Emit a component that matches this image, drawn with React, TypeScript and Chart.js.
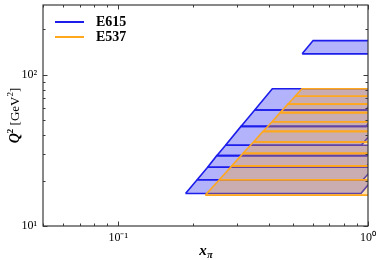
import React, { useEffect, useRef } from 'react';
import { Chart, registerables } from 'chart.js';
Chart.register(...registerables);

// E615 bins (Q^2 edges in GeV^2) and x_pi corners
const e615Q2Edges = [16.4, 20.25, 24.5, 29.2, 34.2, 45.6, 58.5, 81.0];
const e615XLeft = [0.186, 0.207, 0.228, 0.248, 0.269, 0.31, 0.352, 0.414];
const e615XRightLow = [0.937, 0.955, 0.98, 0.99, 0.94, 0.98, 0.98];
const e615XRightHigh = [1.04, 1.06, 1.08, 1.09, 1.09, 1.12, 1.16];
// E615 upper mass band
const e615UpperQ2 = [137.8, 168.6];
const e615UpperXLeft = [0.545, 0.603];
const e615UpperXRight = [1.2, 1.3];

// E537 bins
const e537Q2Edges = [16, 20.25, 25, 30.25, 36, 42.25, 49, 56.25, 64, 72.25, 81];
const e537XLeft = [0.223, 0.254, 0.285, 0.316, 0.348, 0.38, 0.413, 0.445, 0.478, 0.511, 0.544];
const e537XRight = [1.1, 1.1, 1.1, 1.1, 1.1, 1.1, 1.1, 1.1, 1.1, 1.1, 1.1];

const seriesNames = ['E615', 'E537'];
const xTickValues = [0.1, 1];
const xTickLabels = ['10⁻¹', '10⁰'];
const yTickValues = [10, 100];
const yTickLabels = ['10¹', '10²'];

const BLUE_LINE = 'rgb(28,28,235)';
const BLUE_FILL = 'rgba(20,20,245,0.32)';
const ORANGE_LINE = 'rgb(255,168,30)';
const ORANGE_FILL = 'rgba(255,160,0,0.3)';

function quad(xl0: number, xr0: number, y0: number, xl1: number, xr1: number, y1: number) {
  return [
    { x: xl0, y: y0 },
    { x: xr0, y: y0 },
    { x: xr1, y: y1 },
    { x: xl1, y: y1 },
    { x: xl0, y: y0 },
  ];
}

function isNice(v: number) {
  const p = Math.pow(10, Math.floor(Math.log10(v) + 1e-9));
  const s = v / p;
  return Math.abs(s - Math.round(s)) < 1e-6;
}
function isDecade(v: number) {
  const l = Math.log10(v);
  return Math.abs(l - Math.round(l)) < 1e-6;
}

const boxPlugin = {
  id: 'boxTicksTitles',
  afterDraw(chart: any) {
    const { ctx, chartArea: a, scales } = chart;
    const xs = scales.x;
    const ys = scales.y;
    ctx.save();
    ctx.strokeStyle = '#3a3a3a';
    ctx.lineWidth = 1;
    // inward ticks
    ctx.beginPath();
    for (const t of xs.ticks) {
      const v = t.value;
      if (v < xs.min - 1e-9 || v > xs.max + 1e-9 || !isNice(v)) continue;
      const px = Math.round(xs.getPixelForValue(v)) + 0.5;
      const len = isDecade(v) ? 4.5 : 2.5;
      ctx.moveTo(px, a.bottom);
      ctx.lineTo(px, a.bottom - len);
      ctx.moveTo(px, a.top);
      ctx.lineTo(px, a.top + len);
    }
    for (const t of ys.ticks) {
      const v = t.value;
      if (v < ys.min - 1e-9 || v > ys.max + 1e-9 || !isNice(v)) continue;
      const py = Math.round(ys.getPixelForValue(v)) + 0.5;
      const len = isDecade(v) ? 4.5 : 2.5;
      ctx.moveTo(a.left, py);
      ctx.lineTo(a.left + len, py);
      ctx.moveTo(a.right, py);
      ctx.lineTo(a.right - len, py);
    }
    ctx.stroke();
    ctx.lineWidth = 1.2;
    ctx.strokeRect(a.left, a.top, a.right - a.left, a.bottom - a.top);

    // legend
    const items = chart.data.datasets.filter((d: any) => d.label);
    items.forEach((d: any, i: number) => {
      const y = a.top + 17 + i * 15;
      ctx.strokeStyle = d.borderColor;
      ctx.lineWidth = 2;
      ctx.beginPath();
      ctx.moveTo(a.left + 12, y);
      ctx.lineTo(a.left + 41, y);
      ctx.stroke();
      ctx.fillStyle = '#000';
      ctx.font = 'bold 14px "Liberation Serif", serif';
      ctx.textBaseline = 'middle';
      ctx.textAlign = 'left';
      ctx.fillText(d.label, a.left + 53, y + 0.5);
    });

    // x title: x_pi
    ctx.fillStyle = '#000';
    ctx.textBaseline = 'alphabetic';
    const cx = (a.left + a.right) / 2;
    ctx.font = 'bold italic 15px "Liberation Serif", serif';
    const wx = ctx.measureText('x').width;
    ctx.font = 'italic 10px "Liberation Serif", serif';
    const wp = ctx.measureText('π').width;
    const x0 = cx - (wx + wp) / 2;
    ctx.font = 'bold italic 15px "Liberation Serif", serif';
    ctx.fillText('x', x0, 255);
    ctx.font = 'bold italic 10px "Liberation Serif", serif';
    ctx.fillText('π', x0 + wx + 0.5, 258);

    // y title: Q^2 [GeV^2]
    ctx.save();
    ctx.translate(19, (a.top + a.bottom) / 2);
    ctx.rotate(-Math.PI / 2);
    const parts = [
      { t: 'Q', f: 'bold italic 14px "Liberation Serif", serif', dy: 0 },
      { t: '2', f: 'bold 9px "Liberation Serif", serif', dy: -6 },
      { t: ' [GeV', f: '13px "Liberation Serif", serif', dy: 0 },
      { t: '2', f: '9px "Liberation Serif", serif', dy: -6 },
      { t: ']', f: '13px "Liberation Serif", serif', dy: 0 },
    ];
    let total = 0;
    for (const p of parts) {
      ctx.font = p.f;
      total += ctx.measureText(p.t).width;
    }
    let px = -total / 2;
    for (const p of parts) {
      ctx.font = p.f;
      ctx.fillText(p.t, px, p.dy);
      px += ctx.measureText(p.t).width;
    }
    ctx.restore();
    ctx.restore();
  },
};

export default function App() {
  const ref = useRef<HTMLCanvasElement | null>(null);
  useEffect(() => {
    document.body.style.margin = '0';
    const datasets: any[] = [];
    for (let i = 0; i < e615Q2Edges.length - 1; i++) {
      datasets.push({
        label: i === 0 ? seriesNames[0] : undefined,
        data: quad(e615XLeft[i], e615XRightLow[i], e615Q2Edges[i], e615XLeft[i + 1], e615XRightHigh[i], e615Q2Edges[i + 1]),
        borderColor: BLUE_LINE,
        backgroundColor: BLUE_FILL,
        borderWidth: 1.6,
        fill: 'shape',
        showLine: true,
        pointRadius: 0,
        order: 2,
      });
    }
    datasets.push({
      data: quad(e615UpperXLeft[0], e615UpperXRight[0], e615UpperQ2[0], e615UpperXLeft[1], e615UpperXRight[1], e615UpperQ2[1]),
      borderColor: BLUE_LINE,
      backgroundColor: BLUE_FILL,
      borderWidth: 1.6,
      fill: 'shape',
      showLine: true,
      pointRadius: 0,
      order: 2,
    });
    for (let i = 0; i < e537Q2Edges.length - 1; i++) {
      datasets.push({
        label: i === 0 ? seriesNames[1] : undefined,
        data: quad(e537XLeft[i], e537XRight[i], e537Q2Edges[i], e537XLeft[i + 1], e537XRight[i + 1], e537Q2Edges[i + 1]),
        borderColor: ORANGE_LINE,
        backgroundColor: ORANGE_FILL,
        borderWidth: 1.6,
        fill: 'shape',
        showLine: true,
        pointRadius: 0,
        order: 1,
      });
    }
    const tickFont = { family: '"Liberation Serif", serif', size: 12 };
    const zeroPad = (s: any) => {
      s.paddingTop = 0;
      s.paddingBottom = 0;
      s.paddingLeft = 0;
      s.paddingRight = 0;
    };
    const chart = new Chart(ref.current as HTMLCanvasElement, {
      type: 'scatter',
      data: { datasets },
      options: {
        animation: false,
        responsive: false,
        layout: { padding: { top: 5, right: 13, left: 0, bottom: 0 } },
        plugins: { legend: { display: false }, tooltip: { enabled: false } },
        scales: {
          x: {
            type: 'logarithmic',
            min: 0.05,
            max: 1,
            grid: { display: false, drawTicks: false },
            border: { display: false },
            ticks: {
              autoSkip: false,
              maxRotation: 0,
              padding: 5,
              color: '#000',
              font: tickFont,
              callback: (v: any) => {
                const idx = xTickValues.findIndex((t) => Math.abs(t - Number(v)) < 1e-9);
                return idx >= 0 ? xTickLabels[idx] : '';
              },
            },
            afterFit: (s: any) => {
              s.height = 34;
              zeroPad(s);
            },
          },
          y: {
            type: 'logarithmic',
            min: 10,
            max: 290,
            grid: { display: false, drawTicks: false },
            border: { display: false },
            ticks: {
              autoSkip: false,
              padding: 6,
              color: '#000',
              font: tickFont,
              callback: (v: any) => {
                const idx = yTickValues.findIndex((t) => Math.abs(t - Number(v)) < 1e-9);
                return idx >= 0 ? yTickLabels[idx] : '';
              },
            },
            afterFit: (s: any) => {
              s.width = 43;
              zeroPad(s);
            },
          },
        },
      },
      plugins: [boxPlugin],
    } as any);
    return () => chart.destroy();
  }, []);
  return (
    <div style={{ width: 381, height: 260, position: 'relative' }}>
      <canvas ref={ref} width={381} height={260} style={{ display: 'block' }} />
    </div>
  );
}
